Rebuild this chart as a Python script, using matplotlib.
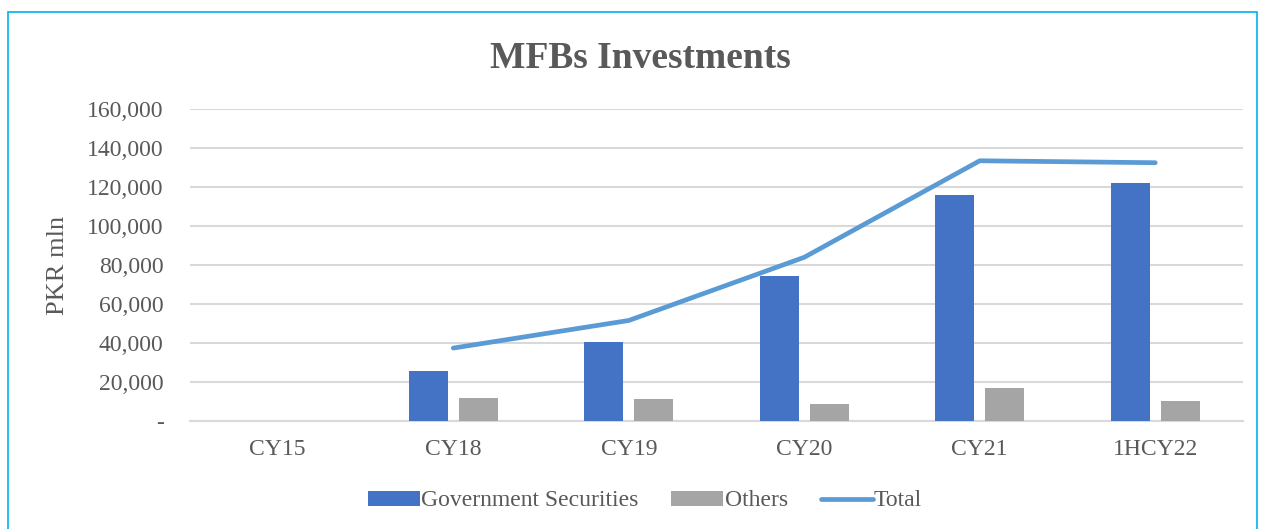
import numpy as np
import matplotlib
matplotlib.use("Agg")
import matplotlib.pyplot as plt
from matplotlib.patches import Rectangle
from matplotlib.ticker import FuncFormatter

categories = ["CY15", "CY18", "CY19", "CY20", "CY21", "1HCY22"]
govt_securities = [np.nan, 25600, 40650, 74450, 116100, 122200]
others = [np.nan, 11600, 11100, 8900, 16900, 10100]
total = [np.nan, 37400, 51550, 83950, 133450, 132450]

W, H = 1262, 529
txt = "#595959"
plt.rcParams["font.family"] = ["Liberation Serif", "DejaVu Serif"]

fig = plt.figure(figsize=(W / 100, H / 100), dpi=100)
ax = fig.add_axes([190 / W, 1 - 421 / H, (1243 - 190) / W, (421 - 109) / H])

x = np.arange(len(categories))
bw = 0.222
b1 = ax.bar(x - 0.142, govt_securities, bw, color="#4472C4", label="Government Securities", zorder=3)
b2 = ax.bar(x + 0.142, others, bw, color="#A5A5A5", label="Others", zorder=3)
l1, = ax.plot(x, total, color="#5B9BD5", lw=3.4, solid_capstyle="round", label="Total", zorder=4)

ax.set_xlim(-0.5, len(categories) - 0.5)
ax.set_ylim(0, 160000)
ax.set_yticks(np.arange(0, 160001, 20000))
ax.yaxis.set_major_formatter(FuncFormatter(lambda v, p: "-" if v == 0 else f"{v:,.0f}"))
ax.set_xticks(x)
ax.set_xticklabels(categories)
ax.grid(axis="y", color="#D9D9D9", lw=1.5, zorder=0)
for s in ["top", "right", "left"]:
    ax.spines[s].set_visible(False)
ax.spines["bottom"].set_color("#D9D9D9")
ax.spines["bottom"].set_linewidth(1.5)
ax.tick_params(axis="both", length=0, labelsize=17, labelcolor=txt)
ax.tick_params(axis="y", pad=19)
ax.tick_params(axis="x", pad=13)

fig.text(640 / W, 1 - 58 / H, "MFBs Investments", ha="center", va="center",
         fontsize=27, fontweight="bold", color=txt)
fig.text(58 / W, 1 - 265 / H, "PKR mln", ha="center", va="center",
         rotation=90, fontsize=19, color=txt)

leg = fig.legend([b1, b2, l1], ["Government Securities", "Others", "Total"],
                 loc="center", bbox_to_anchor=(645 / W, 1 - 501 / H), ncol=3,
                 frameon=False, fontsize=17, handlelength=2.2, handleheight=0.6,
                 handletextpad=0.05, columnspacing=1.4)
for t in leg.get_texts():
    t.set_color(txt)

# outer frame
fig.patches.append(Rectangle((8 / W, -0.05), (1257 - 8) / W, 1.05 - 12 / H,
                             transform=fig.transFigure, fill=False,
                             edgecolor="#00B0F0", lw=1.2))

fig.savefig("out.png", dpi=100)
